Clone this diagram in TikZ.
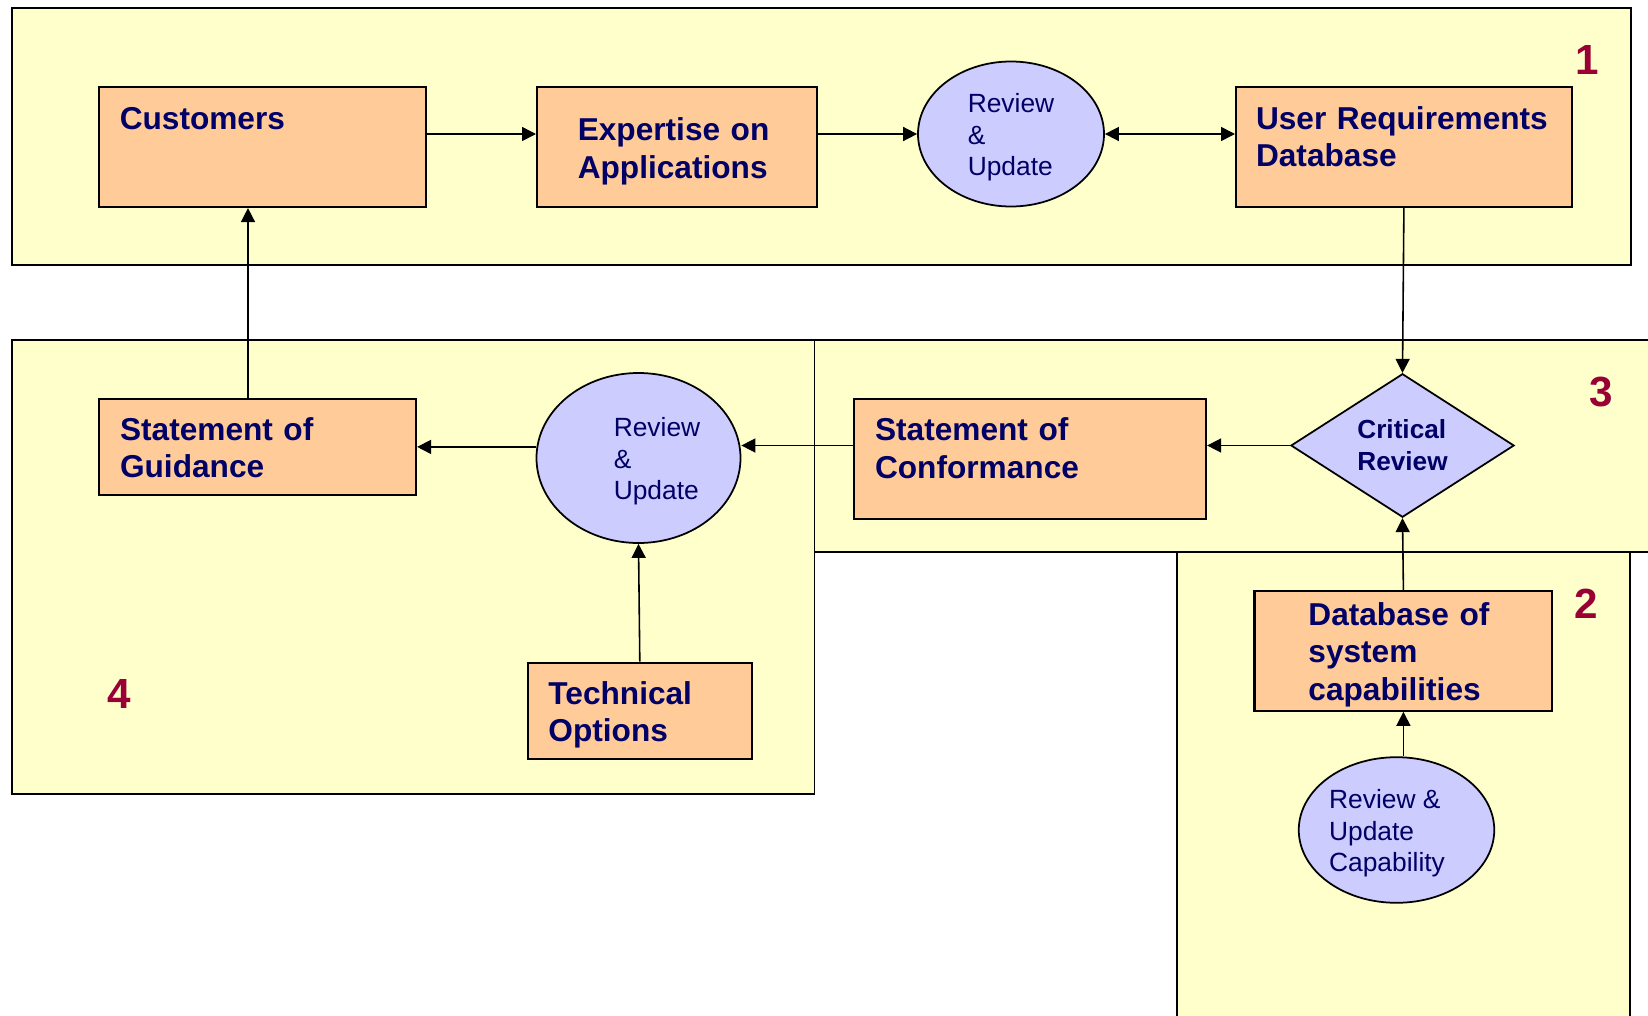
\documentclass[tikz,border=0pt]{standalone}
\usepackage{fontspec}
\setmainfont{Liberation Sans}
\usetikzlibrary{arrows.meta,shapes.geometric,positioning}

\definecolor{areayellow}{HTML}{FFFFCC}
\definecolor{blockorange}{HTML}{FFCC99}
\definecolor{reviewblue}{HTML}{CCCCFF}
\definecolor{navytext}{HTML}{000066}
\definecolor{areared}{HTML}{990033}

\begin{document}
\begin{tikzpicture}[>={Triangle[length=0.14cm,width=0.14cm]},
    area/.style={draw=black, line width=0.55pt, fill=areayellow},
    block/.style={rectangle, draw=black, line width=0.6pt, fill=blockorange,
                  text=navytext, inner sep=0pt, anchor=north west, align=left,
                  font=\fontsize{9}{10.7}\selectfont\bfseries},
    review/.style={ellipse, draw=black, line width=0.5pt, fill=reviewblue,
                   text=navytext, inner sep=0pt, text height=0.1cm, text depth=0.528cm,
                   font=\fontsize{7.5}{9.0}\selectfont},
    areanum/.style={text=areared, font=\fontsize{12}{14}\selectfont\bfseries},
    flow/.style={line width=0.45pt}]
    \useasboundingbox (0,0) rectangle (16.48,-10.16);
    \clip (0,0) rectangle (16.48,-10.16);

    % areas
    \draw[area] (0.12,-0.08) rectangle (16.31,-2.65);
    \draw[area] (7.83,-3.40) rectangle (16.70,-5.52);
    \draw[area] (11.77,-5.52) rectangle (16.30,-10.40);
    \draw[area] (0.12,-3.40) rectangle (8.145,-7.94);

    % area 1
    \node[block, minimum width=3.27cm, minimum height=1.20cm, text width=2.85cm,
          inner xsep=0.21cm, text height=0.42cm, text depth=0.78cm]
          (cust) at (0.977,-0.86) {Customers};
    \node[block, minimum width=2.795cm, minimum height=1.20cm, text width=1.98cm,
          inner xsep=0.4075cm, text height=0.536cm, text depth=0.664cm]
          (expert) at (5.36,-0.86) {Expertise on\\Applications};
    \node[review, minimum width=1.86cm, minimum height=1.45cm]
          (rev1) at (10.11,-1.34)
          {\begin{tabular}[t]{@{}l@{}}Review\\\&\\Update\end{tabular}};
    \node[block, minimum width=3.357cm, minimum height=1.20cm, text width=2.957cm,
          inner xsep=0.20cm, text height=0.42cm, text depth=0.78cm]
          (userdb) at (12.35,-0.86) {User Requirements\\Database};

    % area 3
    \node[diamond, draw=black, line width=0.5pt, fill=reviewblue, text=navytext,
          inner sep=0pt, minimum width=2.232cm, minimum height=1.435cm, align=left,
          font=\fontsize{7.45}{9.1}\selectfont\bfseries]
          (critical) at (14.025,-4.455) {Critical\\Review};
    \node[block, minimum width=3.52cm, minimum height=1.20cm, text width=3.10cm,
          inner xsep=0.21cm, text height=0.416cm, text depth=0.786cm]
          (conform) at (8.53,-3.978) {Statement of\\Conformance};

    % area 4
    \node[review, minimum width=2.04cm, minimum height=1.70cm]
          (rev2) at (6.385,-4.58)
          {\hspace*{0.37cm}\begin{tabular}[t]{@{}l@{}}Review\\\&\\Update\end{tabular}};
    \node[block, minimum width=3.17cm, minimum height=0.963cm, text width=2.75cm,
          inner xsep=0.21cm, text height=0.413cm, text depth=0.55cm]
          (guide) at (0.98,-3.977) {Statement of\\Guidance};
    \node[block, minimum width=2.239cm, minimum height=0.96cm, text width=1.827cm,
          inner xsep=0.206cm, text height=0.413cm, text depth=0.547cm]
          (tech) at (5.268,-6.617) {Technical\\Options};

    % area 2
    \node[block, minimum width=2.979cm, minimum height=1.199cm, text width=1.90cm,
          inner xsep=0.5395cm, text height=0.342cm, text depth=0.857cm]
          (dbsys) at (12.534,-5.898) {Database of\\system\\capabilities};
    \node[review, minimum width=1.955cm, minimum height=1.456cm]
          (rev3) at (13.965,-8.30)
          {\begin{tabular}[t]{@{}l@{}}Review \&\\Update\\Capability\end{tabular}\hspace*{0.19cm}};

    % area numbers
    \node[areanum] (num1) at (15.87,-0.595) {1};
    \node[areanum] (num3) at (16.01,-3.92) {3};
    \node[areanum] (num2) at (15.86,-6.04) {2};
    \node[areanum] (num4) at (1.19,-6.935) {4};

    % flows
    \draw[flow,->] (cust.east |- rev1.center) -- (expert.west |- rev1.center);
    \draw[flow,->] (expert.east |- rev1.center) -- (rev1.west);
    \draw[flow,<->] (rev1.east) -- (rev1.east -| userdb.west);
    \draw[flow,->] (userdb.south) -- (critical.north);
    \draw[flow,->] (critical.west) -- (critical.west -| conform.east);
    \draw[flow,->] (conform.west |- critical.west) -- (rev2.east |- critical.west);
    \draw[flow,->] (rev2.west |- guide.east) -- (guide.east);
    \draw[flow,->] ([xshift=1.5cm]guide.north west) -- ([xshift=1.5cm]guide.north west |- cust.south);
    \draw[flow,->] (tech.north) -- (rev2.south);
    \draw[flow,->] (dbsys.north) -- (critical.south);
    \draw[flow,->] (rev3.north -| dbsys.south) -- (dbsys.south);
\end{tikzpicture}
\end{document}
